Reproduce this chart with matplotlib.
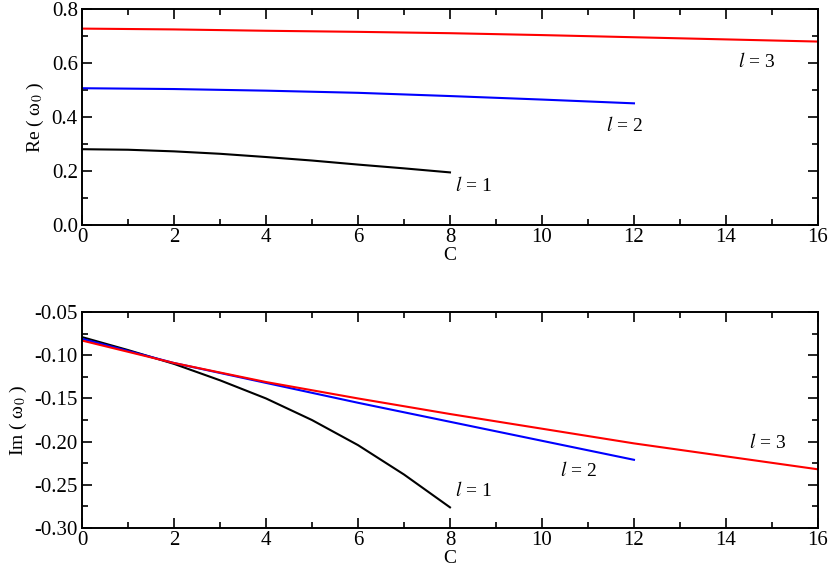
import matplotlib
matplotlib.use("Agg")
import matplotlib.pyplot as plt
from matplotlib.ticker import MultipleLocator, FormatStrFormatter

plt.rcParams["font.family"] = ["Liberation Serif", "DejaVu Serif"]
plt.rcParams["mathtext.fontset"] = "stix"

# Re(omega_0) vs C
c_l1 = [0, 1, 2, 3, 4, 5, 6, 7, 8]
re_l1 = [0.281, 0.279, 0.273, 0.264, 0.252, 0.239, 0.224, 0.210, 0.195]
c_l2 = [0, 2, 4, 6, 8, 10, 12]
re_l2 = [0.507, 0.504, 0.498, 0.490, 0.478, 0.465, 0.451]
c_l3 = [0, 2, 4, 6, 8, 10, 12, 14, 16]
re_l3 = [0.728, 0.725, 0.720, 0.716, 0.711, 0.704, 0.696, 0.688, 0.680]

# Im(omega_0) vs C
im_l1 = [-0.079, -0.094, -0.110, -0.129, -0.150, -0.175, -0.204, -0.238, -0.276]
im_l2 = [-0.081, -0.109, -0.132, -0.155, -0.177, -0.199, -0.221]
im_l3 = [-0.083, -0.109, -0.131, -0.150, -0.168, -0.185, -0.202, -0.217, -0.232]

colors = ["black", "blue", "red"]

fig = plt.figure(figsize=(8.3, 5.74), dpi=100)
ax1 = fig.add_axes([0.0988, 0.608, 0.8867, 0.376])
ax2 = fig.add_axes([0.0988, 0.080, 0.8867, 0.3764])

ax1.plot(c_l1, re_l1, color=colors[0], lw=1.5)
ax1.plot(c_l2, re_l2, color=colors[1], lw=1.5)
ax1.plot(c_l3, re_l3, color=colors[2], lw=1.5)
ax2.plot(c_l1, im_l1, color=colors[0], lw=1.5)
ax2.plot(c_l2, im_l2, color=colors[1], lw=1.5)
ax2.plot(c_l3, im_l3, color=colors[2], lw=1.5)

ax1.set_xlim(0, 16)
ax1.set_ylim(0.0, 0.8)
ax1.yaxis.set_major_locator(MultipleLocator(0.2))
ax1.yaxis.set_minor_locator(MultipleLocator(0.1))
ax1.yaxis.set_major_formatter(FormatStrFormatter("%.1f"))

ax2.set_xlim(0, 16)
ax2.set_ylim(-0.30, -0.05)
ax2.yaxis.set_major_locator(MultipleLocator(0.05))
ax2.yaxis.set_minor_locator(MultipleLocator(0.025))
ax2.yaxis.set_major_formatter(FormatStrFormatter("%.2f"))

fs = 15
for ax in (ax1, ax2):
    ax.xaxis.set_major_locator(MultipleLocator(2))
    ax.xaxis.set_minor_locator(MultipleLocator(1))
    ax.tick_params(which="both", direction="in", top=True, right=True,
                   labelsize=fs, width=1.2, pad=3)
    ax.tick_params(axis="x", pad=2)
    ax.tick_params(which="major", length=7)
    ax.tick_params(which="minor", length=4)
    for s in ax.spines.values():
        s.set_linewidth(1.4)
    ax.set_xlabel("C", fontsize=14, labelpad=0)

ax1.set_ylabel("Re ( ω$_0$ )", fontsize=14, labelpad=4)
ax2.set_ylabel("Im ( ω$_0$ )", fontsize=14, labelpad=4)

lab = {"fontsize": 14, "va": "center", "ha": "left"}
ax1.text(8.1, 0.145, r"$l$ = 1", **lab)
ax1.text(11.4, 0.37, r"$l$ = 2", **lab)
ax1.text(14.26, 0.607, r"$l$ = 3", **lab)
ax2.text(8.1, -0.256, r"$l$ = 1", **lab)
ax2.text(10.4, -0.233, r"$l$ = 2", **lab)
ax2.text(14.5, -0.2005, r"$l$ = 3", **lab)

fig.savefig("out.png", dpi=100)
